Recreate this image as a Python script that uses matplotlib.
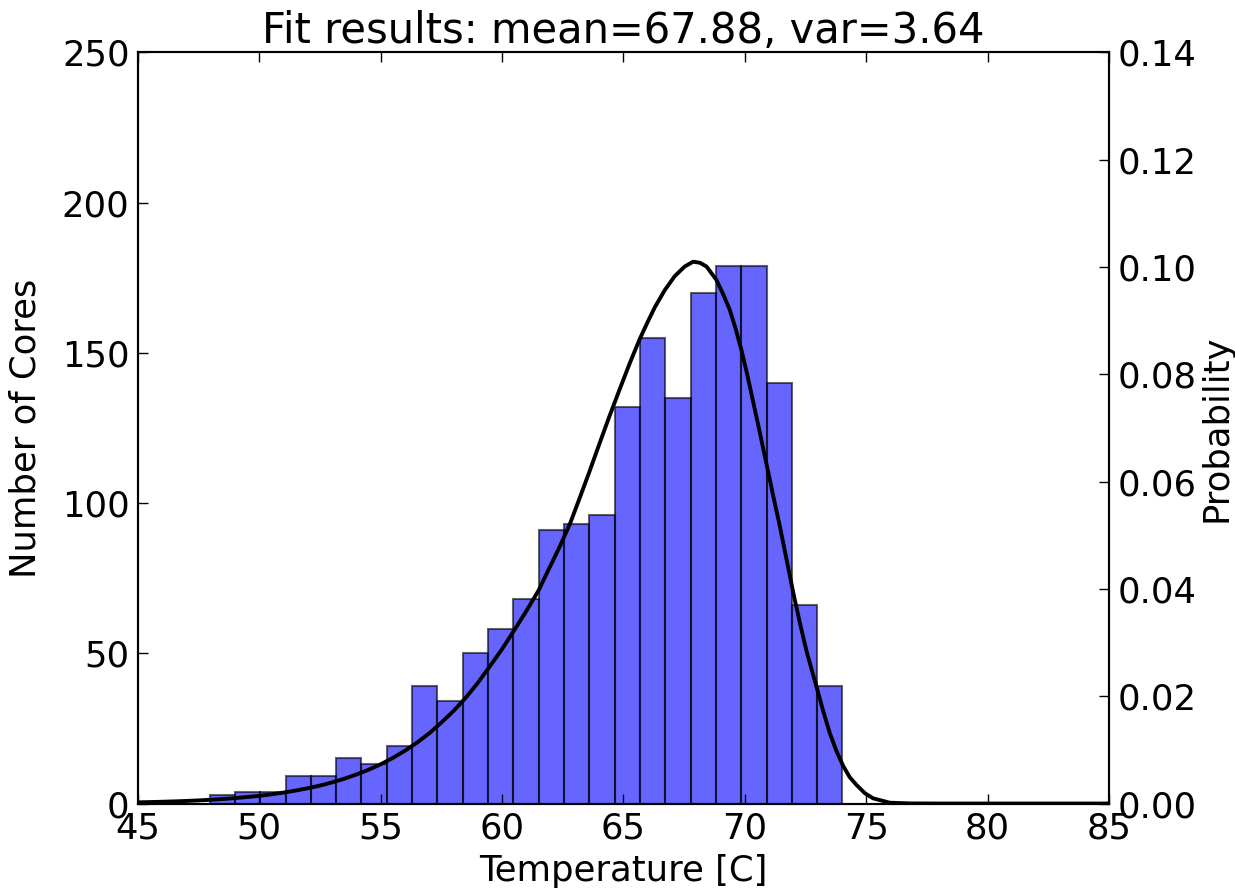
import numpy as np
import matplotlib
matplotlib.use("Agg")
import matplotlib.pyplot as plt
from matplotlib.ticker import FormatStrFormatter

# ---- data ----
bin_start = 47.95
bin_stop = 74.02
counts = [3, 4, 4, 9, 9, 15, 13, 19, 39, 34, 50, 58, 68, 91, 93, 96,
          132, 155, 135, 170, 179, 179, 140, 66, 39]

# fitted probability curve
curve_x = [45.0, 45.5, 46.0, 46.5, 47.0, 47.5, 48.0, 48.5, 49.0, 49.5,
           50.0, 50.5, 51.0, 51.5, 52.0, 52.5, 53.0, 53.5, 54.0, 54.5,
           55.0, 55.5, 56.0, 56.5, 57.0, 57.5, 58.0, 58.5, 59.0, 59.5,
           60.0, 60.5, 61.0, 61.5, 62.0, 62.375, 62.8, 63.2, 63.6, 64.02,
           64.43, 64.85, 65.26, 65.67, 66.0, 66.29, 66.7, 67.11, 67.52,
           67.87, 68.15, 68.42, 68.83, 69.1, 69.38, 69.62, 69.86, 70.1,
           70.34, 70.6, 70.89, 71.15, 71.44, 71.73, 72.02, 72.28, 72.54,
           72.98, 73.24, 73.5, 73.78, 74.05, 74.32, 74.6, 74.95, 75.28,
           75.97, 76.79, 78.0, 80.0, 85.0]
curve_p = [0.00022, 0.00027, 0.00033, 0.0004, 0.00048, 0.00058, 0.0007,
           0.00084, 0.00101, 0.00121, 0.00144, 0.00172, 0.00204, 0.00242,
           0.00285, 0.00335, 0.00394, 0.00462, 0.00541, 0.0063, 0.00732,
           0.0085, 0.00985, 0.01137, 0.0131, 0.0151, 0.01725, 0.0197,
           0.0225, 0.0256, 0.0288, 0.0323, 0.0359, 0.0397, 0.0444, 0.0479,
           0.0522, 0.0570, 0.0619, 0.0672, 0.0723, 0.0773, 0.0821, 0.0866,
           0.0898, 0.0925, 0.0957, 0.0983, 0.1001, 0.1010, 0.1008, 0.1001,
           0.0976, 0.0950, 0.0920, 0.0885, 0.0845, 0.0799, 0.0749, 0.0695,
           0.0633, 0.0577, 0.0517, 0.0452, 0.0387, 0.0334, 0.0284, 0.0213,
           0.0170, 0.0131, 0.0097, 0.0070, 0.0049, 0.00345, 0.0019, 0.00097,
           0.00015, 0.00002, 0.0, 0.0, 0.0]

title = "Fit results: mean=67.88, var=3.64"
xlabel = "Temperature [C]"
ylabel_left = "Number of Cores"
ylabel_right = "Probability"

# ---- figure ----
plt.rcParams['font.family'] = ['DejaVu Sans']
FS = 25.5
fig = plt.figure(figsize=(12.35, 8.94), dpi=100, facecolor='white')
ax = fig.add_axes([0.1117, 0.1012, 0.898 - 0.1117, 0.9413 - 0.1012])

edges = np.linspace(bin_start, bin_stop, len(counts) + 1)
centers = 0.5 * (edges[:-1] + edges[1:])
ax.hist(centers, bins=edges, weights=counts,
        facecolor=(0, 0, 1, 0.6), edgecolor=(0, 0, 0, 0.6), linewidth=1.5)

ax.set_xlim(45, 85)
ax.set_ylim(0, 250)
ax.set_xticks(np.arange(45, 86, 5))
ax.set_yticks(np.arange(0, 251, 50))
ax.set_xlabel(xlabel, fontsize=FS, labelpad=6)
ax.set_ylabel(ylabel_left, fontsize=FS, labelpad=14)
ax.set_title(title, fontsize=30, pad=3)
ax.tick_params(direction='in', length=7, width=1, labelsize=FS,
               top=True, right=False, pad=6)

ax2 = ax.twinx()
ax2.plot(curve_x, curve_p, color='black', linewidth=2.8,
         solid_joinstyle='round', solid_capstyle='round')
ax2.set_ylim(0, 0.14)
ax2.set_xlim(45, 85)
ax2.set_yticks(np.arange(0, 0.1401, 0.02))
ax2.yaxis.set_major_formatter(FormatStrFormatter('%.2f'))
ax2.set_ylabel(ylabel_right, fontsize=FS, labelpad=2)
ax2.tick_params(direction='in', length=7, width=1, labelsize=FS, pad=6)

for a in (ax, ax2):
    for s in a.spines.values():
        s.set_linewidth(1.5)

fig.savefig("out.png", dpi=100, facecolor='white')
